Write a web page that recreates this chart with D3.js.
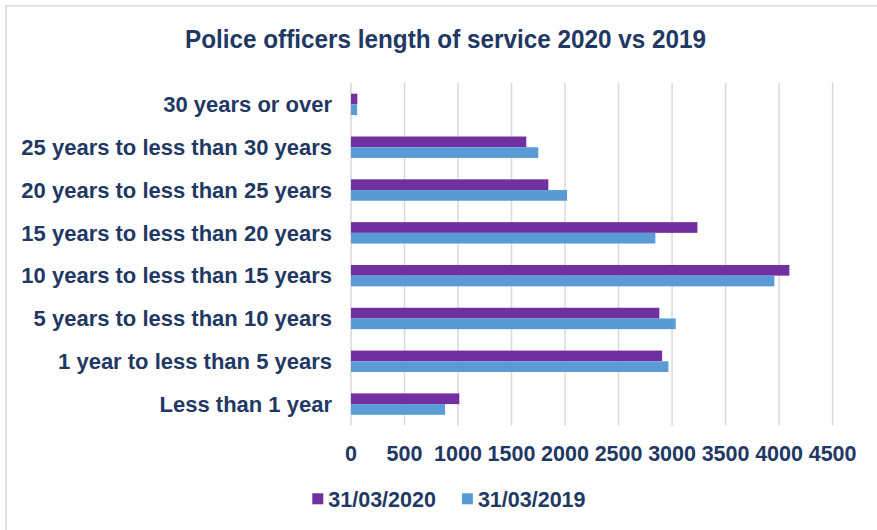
<!DOCTYPE html>
<html>
<head>
<meta charset="utf-8">
<script src="https://cdn.jsdelivr.net/npm/d3@7"></script>
<style>
  html, body { margin: 0; padding: 0; background: #ffffff; }
  svg { display: block; }
  text { font-family: "Liberation Sans", Arial, sans-serif; font-weight: bold; fill: #1f3864; }
</style>
</head>
<body>
<svg id="chart" width="877" height="530"></svg>
<script>
// Length-of-service bands, top to bottom
const categories = [
  "30 years or over",
  "25 years to less than 30 years",
  "20 years to less than 25 years",
  "15 years to less than 20 years",
  "10 years to less than 15 years",
  "5 years to less than 10 years",
  "1 year to less than 5 years",
  "Less than 1 year"
];
const seriesNames = ["31/03/2020", "31/03/2019"];
const values2020 = [59, 1638, 1844, 3237, 4096, 2881, 2907, 1012];
const values2019 = [57, 1750, 2019, 2844, 3956, 3034, 2966, 879];
const xTicks = [0, 500, 1000, 1500, 2000, 2500, 3000, 3500, 4000, 4500];
const colors = ["#7030a0", "#5b9bd5"];

const W = 877, H = 530;
const plot = { left: 351, right: 832.6, top: 83, bottom: 425.5 };
const svg = d3.select("#chart");

// outer frame (top and left edges visible)
svg.append("path")
  .attr("d", `M6,${H} V5.7 H${W}`)
  .attr("fill", "none")
  .attr("stroke", "#d9d9d9")
  .attr("stroke-width", 1.5);

// title
svg.append("text")
  .attr("x", 445.5)
  .attr("y", 47.7)
  .attr("text-anchor", "middle")
  .attr("font-size", 26)
  .attr("textLength", 521)
  .attr("lengthAdjust", "spacingAndGlyphs")
  .text("Police officers length of service 2020 vs 2019");

const x = d3.scaleLinear().domain([0, 4500]).range([plot.left, plot.right]);
const y = d3.scaleBand().domain(categories).range([plot.top, plot.bottom]).paddingInner(0.5).paddingOuter(0.25);
const ySub = d3.scaleBand().domain(seriesNames).range([0, y.bandwidth()]);

// vertical gridlines
svg.append("g")
  .selectAll("line")
  .data(xTicks)
  .join("line")
  .attr("x1", d => x(d)).attr("x2", d => x(d))
  .attr("y1", plot.top).attr("y2", plot.bottom)
  .attr("stroke", "#d9d9d9")
  .attr("stroke-width", 1.5);

// bars
const rows = categories.map((c, i) => ({ c, vals: [values2020[i], values2019[i]] }));
const grp = svg.append("g").selectAll("g")
  .data(rows)
  .join("g")
  .attr("transform", d => `translate(0,${y(d.c)})`);
grp.selectAll("rect")
  .data(d => d.vals.map((v, k) => ({ v, k })))
  .join("rect")
  .attr("x", x(0))
  .attr("y", d => ySub(seriesNames[d.k]))
  .attr("width", d => x(d.v) - x(0))
  .attr("height", ySub.bandwidth())
  .attr("fill", d => colors[d.k]);

// category labels
svg.append("g")
  .selectAll("text")
  .data(categories)
  .join("text")
  .attr("x", 332)
  .attr("y", d => y(d) + y.bandwidth() / 2)
  .attr("dy", "0.35em")
  .attr("text-anchor", "end")
  .attr("font-size", 22)
  .text(d => d);

// value axis labels
svg.append("g")
  .selectAll("text")
  .data(xTicks)
  .join("text")
  .attr("x", d => x(d))
  .attr("y", 460.7)
  .attr("text-anchor", "middle")
  .attr("font-size", 21.5)
  .text(d => d);

// legend
const legend = svg.append("g").selectAll("g")
  .data(seriesNames)
  .join("g")
  .attr("transform", (d, i) => `translate(${312.3 + i * 149.6},0)`);
legend.append("rect")
  .attr("x", 0).attr("y", 493.3)
  .attr("width", 11).attr("height", 11)
  .attr("fill", (d, i) => colors[i]);
legend.append("text")
  .attr("x", 16)
  .attr("y", 506.7)
  .attr("font-size", 21.5)
  .text(d => d);
</script>
</body>
</html>
